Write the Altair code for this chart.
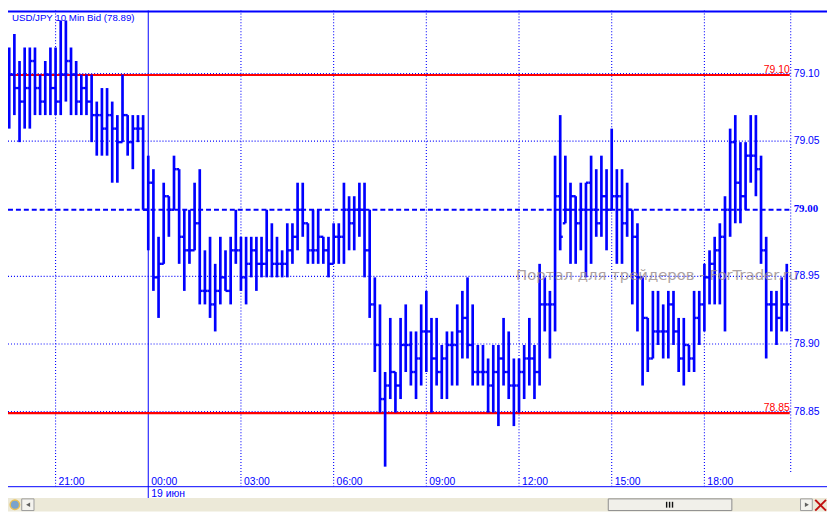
import altair as alt
import pandas as pd

# 10-minute bars, bar 0 = 00:00 (19 июн); first visible bar = 19:30 previous day
START_BAR = -27

highs = [79.12, 79.13, 79.11, 79.12, 79.12, 79.12, 79.10, 79.11, 79.12, 79.12,
         79.14, 79.14, 79.12, 79.11, 79.10, 79.10, 79.10, 79.08, 79.09, 79.09,
         79.08, 79.07, 79.10, 79.07, 79.07, 79.07, 79.07, 79.04, 79.03, 78.98,
         79.02, 79.01, 79.04, 79.03, 79.00, 79.00, 79.02, 79.03, 78.97, 78.98,
         78.96, 78.98, 78.97, 78.98, 79.00, 78.98, 78.98, 78.98, 78.98, 78.98,
         79.00, 78.99, 78.98, 78.97, 78.99, 78.99, 79.02, 79.02, 78.99, 79.00,
         79.00, 78.98, 78.98, 78.99, 78.99, 79.02, 79.01, 79.01, 79.02, 79.02,
         79.00, 78.95, 78.93, 78.88, 78.92, 78.88, 78.92, 78.93, 78.91, 78.91,
         78.93, 78.94, 78.92, 78.92, 78.90, 78.91, 78.91, 78.93, 78.94, 78.95,
         78.93, 78.90, 78.90, 78.89, 78.90, 78.90, 78.92, 78.91, 78.89, 78.89,
         78.90, 78.92, 78.90, 78.96, 78.95, 78.94, 79.04, 79.07, 79.04, 79.02,
         79.01, 79.02, 79.02, 79.04, 79.03, 79.04, 79.03, 79.06, 79.03, 79.03,
         79.02, 79.00, 78.99, 78.95, 78.92, 78.94, 78.94, 78.93, 78.94, 78.94,
         78.92, 78.92, 78.90, 78.94, 78.94, 78.96, 78.97, 78.98, 78.99, 79.01,
         79.06, 79.07, 79.05, 79.05, 79.07, 79.07, 79.04, 78.98, 78.94, 78.94,
         78.95, 78.96]

lows = [79.06, 79.07, 79.05, 79.06, 79.06, 79.07, 79.07, 79.07, 79.07, 79.07,
        79.07, 79.08, 79.07, 79.07, 79.07, 79.07, 79.05, 79.04, 79.04, 79.04,
        79.02, 79.02, 79.05, 79.04, 79.03, 79.05, 79.00, 78.97, 78.94, 78.92,
        78.96, 78.98, 79.00, 78.96, 78.94, 78.96, 78.97, 78.93, 78.93, 78.92,
        78.91, 78.93, 78.94, 78.93, 78.96, 78.94, 78.93, 78.95, 78.94, 78.95,
        78.95, 78.95, 78.95, 78.95, 78.95, 78.96, 78.97, 78.98, 78.96, 78.96,
        78.96, 78.96, 78.95, 78.96, 78.96, 78.96, 78.97, 78.97, 78.98, 78.95,
        78.92, 78.88, 78.85, 78.81, 78.86, 78.85, 78.86, 78.88, 78.87, 78.86,
        78.87, 78.88, 78.85, 78.87, 78.86, 78.86, 78.87, 78.87, 78.89, 78.89,
        78.87, 78.87, 78.87, 78.85, 78.85, 78.84, 78.87, 78.86, 78.84, 78.85,
        78.86, 78.87, 78.86, 78.87, 78.91, 78.89, 78.91, 78.97, 78.99, 78.96,
        78.96, 78.97, 78.95, 78.96, 78.98, 78.98, 78.97, 79.00, 78.96, 78.96,
        78.98, 78.93, 78.91, 78.87, 78.88, 78.89, 78.90, 78.89, 78.89, 78.90,
        78.88, 78.87, 78.88, 78.88, 78.90, 78.91, 78.93, 78.93, 78.93, 78.91,
        78.98, 78.99, 78.99, 79.00, 79.02, 79.01, 78.96, 78.89, 78.91, 78.90,
        78.91, 78.91]

opens = [79.08, 79.10, 79.09, 79.08, 79.09, 79.11, 79.09, 79.08, 79.10, 79.09,
         79.08, 79.10, 79.11, 79.10, 79.08, 79.09, 79.08, 79.07, 79.07, 79.06,
         79.07, 79.06, 79.05, 79.07, 79.05, 79.06, 79.06, 79.00, 79.02, 78.95,
         78.96, 79.01, 79.00, 79.03, 78.98, 78.97, 78.97, 78.99, 78.94, 78.94,
         78.93, 78.94, 78.95, 78.94, 78.97, 78.97, 78.95, 78.96, 78.97, 78.96,
         78.96, 78.97, 78.96, 78.96, 78.96, 78.97, 78.98, 79.00, 78.99, 78.97,
         78.97, 78.98, 78.97, 78.96, 78.98, 78.98, 79.00, 78.99, 79.00, 79.00,
         78.97, 78.93, 78.90, 78.86, 78.87, 78.88, 78.87, 78.90, 78.90, 78.88,
         78.89, 78.91, 78.91, 78.89, 78.88, 78.89, 78.90, 78.90, 78.91, 78.92,
         78.90, 78.88, 78.88, 78.88, 78.87, 78.88, 78.89, 78.88, 78.87, 78.87,
         78.88, 78.89, 78.89, 78.88, 78.93, 78.93, 78.93, 79.01, 78.99, 79.00,
         79.01, 78.99, 79.00, 79.02, 79.00, 78.99, 79.01, 79.00, 79.01, 79.01,
         78.99, 79.00, 78.98, 78.95, 78.92, 78.89, 78.91, 78.91, 78.91, 78.93,
         78.91, 78.89, 78.90, 78.89, 78.92, 78.93, 78.95, 78.96, 78.97, 78.98,
         79.00, 79.05, 79.02, 79.01, 79.04, 79.04, 79.03, 78.97, 78.93, 78.93,
         78.92, 78.93]

closes = [79.10, 79.09, 79.08, 79.09, 79.11, 79.09, 79.08, 79.10, 79.09, 79.08,
          79.10, 79.11, 79.10, 79.08, 79.09, 79.08, 79.07, 79.07, 79.06, 79.07,
          79.06, 79.05, 79.07, 79.05, 79.06, 79.06, 79.00, 79.02, 78.95, 78.96,
          79.01, 79.00, 79.03, 78.98, 78.97, 78.97, 78.99, 78.94, 78.94, 78.93,
          78.94, 78.95, 78.94, 78.97, 78.97, 78.95, 78.96, 78.97, 78.96, 78.96,
          78.97, 78.96, 78.96, 78.96, 78.97, 78.98, 79.00, 78.99, 78.97, 78.97,
          78.98, 78.97, 78.96, 78.98, 78.98, 79.00, 78.99, 79.00, 79.00, 78.97,
          78.93, 78.90, 78.86, 78.87, 78.88, 78.87, 78.90, 78.90, 78.88, 78.89,
          78.91, 78.91, 78.89, 78.88, 78.89, 78.90, 78.90, 78.91, 78.92, 78.90,
          78.88, 78.88, 78.88, 78.87, 78.88, 78.89, 78.88, 78.87, 78.87, 78.88,
          78.89, 78.89, 78.88, 78.93, 78.93, 78.93, 79.01, 78.98, 79.00, 79.01,
          78.99, 79.00, 79.02, 79.00, 78.99, 79.01, 79.00, 79.01, 79.01, 78.99,
          79.00, 78.98, 78.95, 78.92, 78.89, 78.91, 78.91, 78.91, 78.93, 78.91,
          78.89, 78.90, 78.89, 78.92, 78.93, 78.95, 78.96, 78.97, 78.98, 79.00,
          79.05, 79.02, 79.01, 79.04, 79.04, 79.03, 78.97, 78.93, 78.93, 78.92,
          78.93, 78.93]

time_labels = ["21:00", "00:00", "03:00", "06:00", "09:00", "12:00", "15:00", "18:00"]
time_label_bars = [-18, 0, 18, 36, 54, 72, 90, 108]
price_levels = [79.10, 79.05, 79.00, 78.95, 78.90, 78.85]
price_labels = ["79.10", "79.05", "79.00", "78.95", "78.90", "78.85"]
red_levels = [79.10, 78.85]
red_labels = ["79.10", "78.85"]
title_text = "USD/JPY 10 Min Bid (78.89)"
date_text = "19 июн"
watermark = "Портал для трейдеров - ForTrader.ru"

BLUE = "#0000FF"
RED = "#FF0000"
W, H = 827, 506
FONT = "Liberation Sans"


def fx(x):
    return x * W / 835.0


def fy(y):
    return y * H / 514.0


xs = alt.Scale(domain=[-27.238, 131.81], nice=False, zero=False)
ys = alt.Scale(domain=[78.7768, 79.1474], nice=False, zero=False)

n = len(highs)
bars = pd.DataFrame({
    "k": [START_BAR + i for i in range(n)],
    "h": highs, "l": lows, "o": opens, "c": closes,
})

one = pd.DataFrame({"a": [0]})


def vrect(x1, y1, x2, y2, **kw):
    return alt.Chart(one).mark_rect(**kw).encode(
        x=alt.value(fx(x1)), x2=alt.value(fx(x2)),
        y=alt.value(fy(y1)), y2=alt.value(fy(y2)))


def vline(x1, y1, x2, y2, **kw):
    return alt.Chart(one).mark_rule(**kw).encode(
        x=alt.value(fx(x1)), x2=alt.value(fx(x2)),
        y=alt.value(fy(y1)), y2=alt.value(fy(y2)))


def vtext(x, y, t, **kw):
    return alt.Chart(one).mark_text(**kw).encode(
        x=alt.value(fx(x)), y=alt.value(fy(y)), text=alt.value(t))


grid_df = pd.DataFrame({"p": [79.10, 79.05, 78.95, 78.90, 78.85]})
hgrid = alt.Chart(grid_df).mark_rule(color=BLUE, strokeWidth=1.1, strokeDash=[1, 2], yOffset=-1).encode(
    y=alt.Y("p:Q", scale=ys, axis=None), x=alt.value(0), x2=alt.value(fx(798)))
dash_df = pd.DataFrame({"p": [79.00]})
hdash = alt.Chart(dash_df).mark_rule(color=BLUE, strokeWidth=2, strokeDash=[5, 3]).encode(
    y=alt.Y("p:Q", scale=ys, axis=None), x=alt.value(0), x2=alt.value(fx(798)))

vg_df = pd.DataFrame({"k": [b for b in time_label_bars if b != 0]})
vgrid = alt.Chart(vg_df).mark_rule(color=BLUE, strokeWidth=1.1, strokeDash=[1, 2]).encode(
    x=alt.X("k:Q", scale=xs, axis=None), y=alt.value(0), y2=alt.value(fy(488)))
day_df = pd.DataFrame({"k": [0]})
dayline = alt.Chart(day_df).mark_rule(color=BLUE, strokeWidth=1).encode(
    x=alt.X("k:Q", scale=xs, axis=None), y=alt.value(0), y2=alt.value(fy(502)))
right_edge = vline(798, 0, 798, 475, color=BLUE, strokeWidth=1.1, strokeDash=[1, 2])

red_df = pd.DataFrame({"p": red_levels, "lab": red_labels})
redlines = alt.Chart(red_df).mark_rule(color=RED, strokeWidth=2.2, yOffset=0.5).encode(
    y=alt.Y("p:Q", scale=ys, axis=None), x=alt.value(0), x2=alt.value(fx(797)))
redtext = alt.Chart(red_df).mark_text(color=RED, font=FONT, fontSize=10.5, align="right",
                                      baseline="alphabetic", dy=-1.5).encode(
    y=alt.Y("p:Q", scale=ys, axis=None), x=alt.value(fx(797)), text="lab:N")

base = alt.Chart(bars)
hl = base.mark_rule(color=BLUE, strokeWidth=2.7, strokeCap="butt").encode(
    x=alt.X("k:Q", scale=xs, axis=None),
    y=alt.Y("l:Q", scale=ys, axis=None), y2="h:Q")
open_tick = base.transform_calculate(kl="datum.k - 0.5").mark_rule(
    color=BLUE, strokeWidth=2.4, strokeCap="butt").encode(
    x=alt.X("kl:Q", scale=xs, axis=None), x2="k:Q",
    y=alt.Y("o:Q", scale=ys, axis=None))
close_tick = base.transform_calculate(kr="datum.k + 0.5").mark_rule(
    color=BLUE, strokeWidth=2.4, strokeCap="butt").encode(
    x=alt.X("k:Q", scale=xs, axis=None), x2="kr:Q",
    y=alt.Y("c:Q", scale=ys, axis=None))

axis_line = vline(0, 488.5, 835, 488.5, color=BLUE, strokeWidth=1)
top_line = vline(0, 1, 835, 1, color=BLUE, strokeWidth=2)

tl_df = pd.DataFrame({"k": time_label_bars, "lab": time_labels})
tlabels = alt.Chart(tl_df).mark_text(color=BLUE, font=FONT, fontSize=10.5, align="left",
                                     baseline="alphabetic", dx=3).encode(
    x=alt.X("k:Q", scale=xs, axis=None), y=alt.value(fy(486.5)), text="lab:N")

pl_df = pd.DataFrame({"p": price_levels, "lab": price_labels})
plabels = alt.Chart(pl_df).transform_filter("datum.lab != '79.00'").mark_text(
    color=BLUE, font=FONT, fontSize=10.5, align="left", baseline="middle", dy=-1).encode(
    y=alt.Y("p:Q", scale=ys, axis=None), x=alt.value(fx(801)), text="lab:N")
plabel_bold = alt.Chart(pl_df).transform_filter("datum.lab == '79.00'").mark_text(
    color=BLUE, font="Liberation Serif", fontSize=11, fontWeight="bold", align="left",
    baseline="middle", dy=-1).encode(
    y=alt.Y("p:Q", scale=ys, axis=None), x=alt.value(fx(801)), text="lab:N")

title = vtext(4, 10.8, title_text, color=BLUE, font=FONT, fontSize=9.8, align="left",
              baseline="alphabetic")
date_lab = vtext(146, 499.5, date_text, color=BLUE, font=FONT, fontSize=10.5, align="left",
                 baseline="alphabetic")
wm = vtext(518, 276, watermark, color="#9a8c8c", opacity=0.8, font="DejaVu Sans",
           fontSize=15, align="left", baseline="alphabetic")

# bottom scroll bar chrome
strip = vrect(0, 500, 835, 514, color="#ECE9D8")
icon = alt.Chart(one).mark_point(filled=True, shape="circle", size=90, color="#4a86c8",
                                 stroke="#e8b020", strokeWidth=1.5).encode(
    x=alt.value(fx(7)), y=alt.value(fy(507)))
lbtn = vrect(14, 501, 26.5, 513, fill="#F4F3EE", stroke="#9a9a9a", strokeWidth=1)
ltri = alt.Chart(one).mark_point(filled=True, shape="triangle-left", size=22, color="#222222").encode(
    x=alt.value(fx(20.5)), y=alt.value(fy(507)))
thumb = vrect(612, 501, 738, 513, fill="#F1F0EA", stroke="#8c8c8c", strokeWidth=1)
grip = alt.layer(*[vline(x, 504, x, 510, color="#111111", strokeWidth=1.4) for x in (671.5, 674.5, 677.5)])
rbtn = vrect(808, 501, 820, 513, fill="#F4F3EE", stroke="#9a9a9a", strokeWidth=1)
rtri = alt.Chart(one).mark_point(filled=True, shape="triangle-right", size=22, color="#222222").encode(
    x=alt.value(fx(814.5)), y=alt.value(fy(507)))
xa = vline(823, 502, 834, 513, color="#c01010", strokeWidth=2)
xb = vline(834, 502, 823, 513, color="#c01010", strokeWidth=2)

chart = alt.layer(
    hgrid, hdash, vgrid, dayline, right_edge, redlines,
    hl, open_tick, close_tick,
    wm, redtext, axis_line, top_line, tlabels, plabels, plabel_bold, title, date_lab,
    strip, icon, lbtn, ltri, thumb, grip, rbtn, rtri, xa, xb,
).properties(
    width=W, height=H, padding=0, autosize=alt.AutoSizeParams(type="none"),
    background="white",
).configure_view(stroke=None)

chart.save("out.html", embed_options={"renderer": "svg", "actions": False})
